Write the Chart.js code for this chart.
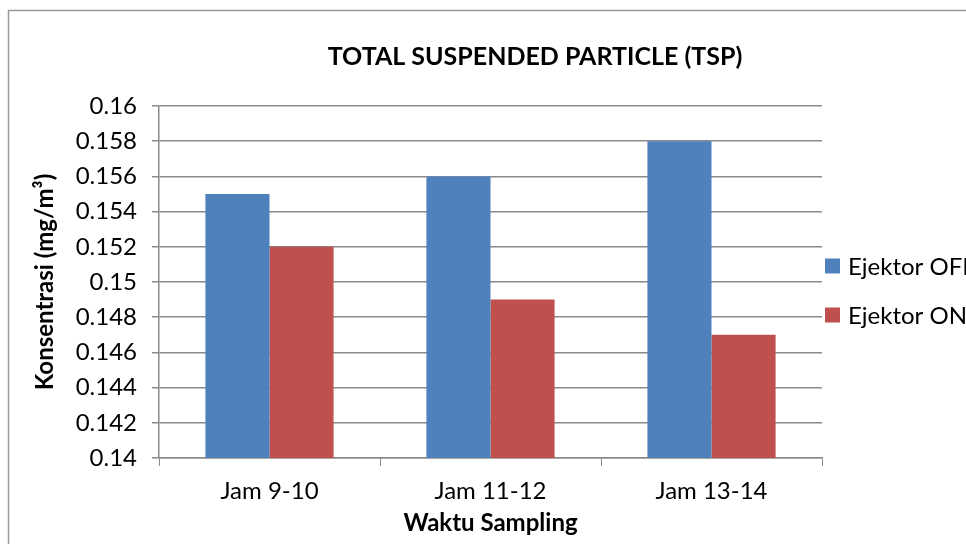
<!DOCTYPE html>
<html>
<head>
<meta charset="utf-8">
<script src="https://cdn.jsdelivr.net/npm/chart.js@4.4.1/dist/chart.umd.min.js"></script>
<style>
  html, body { margin: 0; padding: 0; background: #ffffff; overflow: hidden; }
  #wrap { width: 966px; height: 544px; }
</style>
</head>
<body>
<div id="wrap"><canvas id="chart" width="966" height="544"></canvas></div>
<script>
// Categories and series
const categories = ["Jam 9-10", "Jam 11-12", "Jam 13-14"];
const ejektorOff = [0.155, 0.156, 0.158];
const ejektorOn = [0.152, 0.149, 0.147];
const seriesLabels = ["Ejektor OFF", "Ejektor ON"];
const seriesColors = ["#4F81BD", "#C0504D"];

const chartTitle = "TOTAL SUSPENDED PARTICLE (TSP)";
const xTitle = "Waktu Sampling";
const yTitle = "Konsentrasi (mg/m³)";

const FONT = "Lato, 'Noto Sans', sans-serif";
const gridColor = "#8a8a8a";

// Frame, title and legend drawn like the Excel original
const decorations = {
  id: "decorations",
  beforeDraw(chart) {
    const ctx = chart.ctx;
    ctx.save();
    ctx.strokeStyle = "#9a9a9a";
    ctx.lineWidth = 1.5;
    ctx.strokeRect(8.5, 10.5, 1200, 800);
    ctx.restore();
  },
  afterDraw(chart) {
    const ctx = chart.ctx;
    ctx.save();
    ctx.fillStyle = "#000000";
    ctx.font = "bold 25px " + FONT;
    ctx.textAlign = "center";
    ctx.textBaseline = "middle";
    ctx.fillText(chartTitle, 535, 57);

    // legend
    ctx.font = "24px " + FONT;
    ctx.textAlign = "left";
    const rows = [266, 315];
    chart.data.datasets.forEach((ds, i) => {
      ctx.fillStyle = ds.backgroundColor;
      ctx.fillRect(825, rows[i] - 7.5, 15, 15);
      ctx.fillStyle = "#000000";
      ctx.fillText(ds.label, 848, rows[i] + 1);
    });
    ctx.restore();
  },
};

new Chart(document.getElementById("chart"), {
  type: "bar",
  plugins: [decorations],
  data: {
    labels: categories,
    datasets: [
      { label: seriesLabels[0], data: ejektorOff, backgroundColor: seriesColors[0] },
      { label: seriesLabels[1], data: ejektorOn, backgroundColor: seriesColors[1] },
    ],
  },
  options: {
    responsive: false,
    animation: false,
    layout: { padding: { left: 8, top: 106, right: 144, bottom: 0 } },
    datasets: {
      bar: { categoryPercentage: 0.58, barPercentage: 1.0 },
    },
    plugins: {
      legend: { display: false },
      tooltip: { enabled: false },
      title: { display: false },
    },
    scales: {
      x: {
        grid: {
          drawOnChartArea: false,
          drawTicks: true,
          tickLength: 8,
          color: gridColor,
          offset: true,
        },
        border: { color: gridColor, width: 1.5 },
        ticks: {
          color: "#000000",
          font: { family: FONT, size: 24 },
          padding: 11,
        },
        title: {
          display: true,
          text: xTitle,
          color: "#000000",
          font: { family: FONT, size: 24, weight: "bold" },
          padding: { top: 0, bottom: 6 },
        },
        afterFit(scale) { scale.height = 86; },
      },
      y: {
        min: 0.14,
        max: 0.16,
        grid: {
          color: gridColor,
          lineWidth: 1.5,
          tickLength: 7,
          drawTicks: true,
        },
        border: { color: gridColor, width: 1.5 },
        ticks: {
          stepSize: 0.002,
          color: "#000000",
          font: { family: FONT, size: 24 },
          padding: 15,
          callback: (v) => String(parseFloat(Number(v).toFixed(3))),
        },
        title: {
          display: true,
          text: yTitle,
          color: "#000000",
          font: { family: FONT, size: 24, weight: "bold" },
          padding: { top: 23, bottom: 0 },
        },
        afterFit(scale) { scale.width = 151; },
      },
    },
  },
});
</script>
</body>
</html>
